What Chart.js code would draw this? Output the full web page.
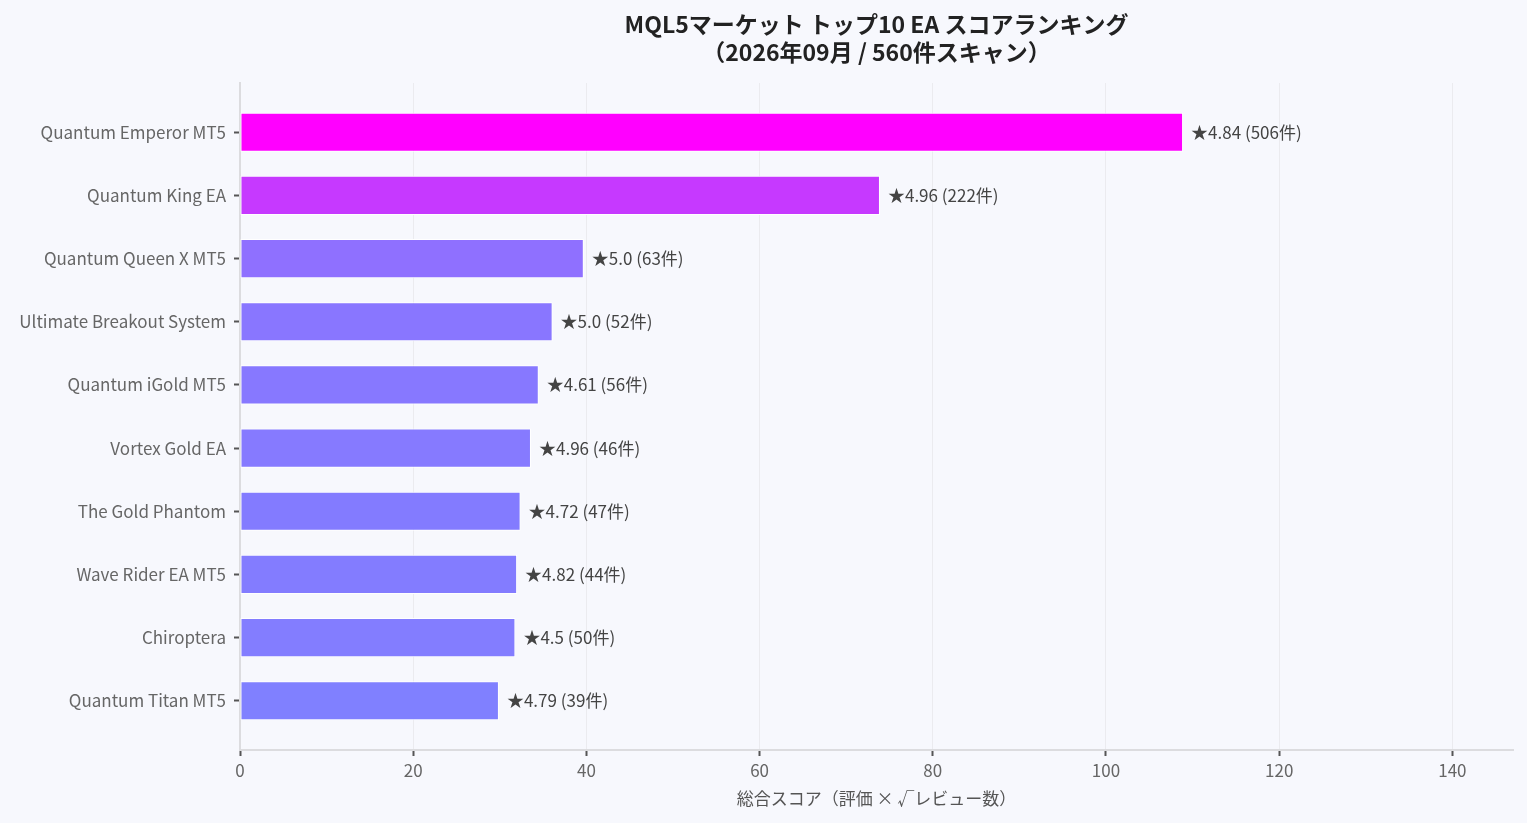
<!DOCTYPE html>
<html lang="ja">
<head>
<meta charset="utf-8">
<title>MQL5 EA Ranking</title>
<script src="https://cdn.jsdelivr.net/npm/chart.js@4.4.1/dist/chart.umd.min.js"></script>
<style>
    html, body { margin: 0; padding: 0; background: #f7f8fd; }
    #wrap { width: 1527px; height: 823px; position: relative; }
</style>
</head>
<body>
<div id="wrap"><canvas id="rankChart"></canvas></div>
<script>
// Data
const categories = [
    'Quantum Emperor MT5', 'Quantum King EA', 'Quantum Queen X MT5', 'Ultimate Breakout System',
    'Quantum iGold MT5', 'Vortex Gold EA', 'The Gold Phantom', 'Wave Rider EA MT5',
    'Chiroptera', 'Quantum Titan MT5'
];
const scores = [108.9, 73.9, 39.7, 36.1, 34.5, 33.6, 32.4, 32.0, 31.8, 29.9];
const ratings = ['4.84', '4.96', '5.0', '5.0', '4.61', '4.96', '4.72', '4.82', '4.5', '4.79'];
const reviewCounts = [506, 222, 63, 52, 56, 46, 47, 44, 50, 39];
const xTickValues = [0, 20, 40, 60, 80, 100, 120, 140];
const barColors = ['#ff00ff', '#c639ff', '#8f70ff', '#8976ff', '#8778ff', '#867aff', '#837bff', '#837cff', '#837dff', '#8080ff'];

const FONT = '"Noto Sans CJK JP", "Noto Sans", sans-serif';
const titleLines = ['MQL5マーケット トップ10 EA スコアランキング', '（2026年09月 / 560件スキャン）'];

// bar end labels: ★rating (count件)
const valueLabels = {
    id: 'valueLabels',
    afterDatasetsDraw(chart) {
        const { ctx } = chart;
        const meta = chart.getDatasetMeta(0);
        ctx.save();
        ctx.font = '17px ' + FONT;
        ctx.fillStyle = '#444';
        ctx.textBaseline = 'middle';
        meta.data.forEach((bar, i) => {
            ctx.fillText(`★${ratings[i]} (${reviewCounts[i]}件)`, bar.x + 8, bar.y);
        });
        ctx.restore();
    }
};

// title centred over the plot area
const plotTitle = {
    id: 'plotTitle',
    afterDraw(chart) {
        const { ctx, chartArea } = chart;
        const cx = (chartArea.left + chartArea.right) / 2;
        ctx.save();
        ctx.font = 'bold 23px ' + FONT;
        ctx.fillStyle = '#222';
        ctx.textAlign = 'center';
        ctx.textBaseline = 'middle';
        ctx.fillText(titleLines[0], cx, 24);
        ctx.fillText(titleLines[1], cx, 52);
        ctx.restore();
    }
};

const bg = {
    id: 'bg',
    beforeDraw(chart) {
        const { ctx, width, height } = chart;
        ctx.save();
        ctx.fillStyle = '#f7f8fd';
        ctx.fillRect(0, 0, width, height);
        ctx.restore();
    }
};

new Chart(document.getElementById('rankChart'), {
    type: 'bar',
    data: {
        datasets: [{
            data: scores.map((v, i) => ({ x: v, y: i })),
            backgroundColor: barColors,
            borderColor: '#ffffff',
            borderWidth: 1,
            borderSkipped: false,
            barPercentage: 0.62,
            categoryPercentage: 1
        }]
    },
    options: {
        indexAxis: 'y',
        responsive: true,
        maintainAspectRatio: false,
        animation: false,
        layout: { padding: { top: 83, right: 14, left: 0, bottom: 0 } },
        plugins: {
            legend: { display: false },
            tooltip: { enabled: false }
        },
        scales: {
            x: {
                type: 'linear',
                min: 0,
                max: 147,
                afterFit: s => { s.height = 73; },
                afterBuildTicks: s => { s.ticks = xTickValues.map(v => ({ value: v })); },
                ticks: { color: '#666', font: { family: FONT, size: 17 }, padding: 4, maxRotation: 0 },
                grid: { color: '#ebebef', lineWidth: 1, tickColor: '#555', tickLength: 6, tickWidth: 2 },
                border: { color: '#dcdcdf', width: 2 },
                title: {
                    display: true,
                    text: '総合スコア（評価 × √レビュー数）',
                    color: '#555',
                    font: { family: FONT, size: 17 },
                    padding: { top: 0, bottom: 14 }
                }
            },
            y: {
                type: 'linear',
                reverse: true,
                offset: false,
                min: -0.78,
                max: 9.78,
                afterFit: s => { s.width = 240; },
                afterBuildTicks: s => { s.ticks = categories.map((_, i) => ({ value: i })); },
                ticks: {
                    color: '#666',
                    font: { family: FONT, size: 17 },
                    padding: 8,
                    callback: v => categories[v]
                },
                grid: { offset: false, drawOnChartArea: false, tickColor: '#555', tickLength: 6, tickWidth: 2 },
                border: { color: '#dcdcdf', width: 2 }
            }
        }
    },
    plugins: [bg, valueLabels, plotTitle]
});
</script>
</body>
</html>
